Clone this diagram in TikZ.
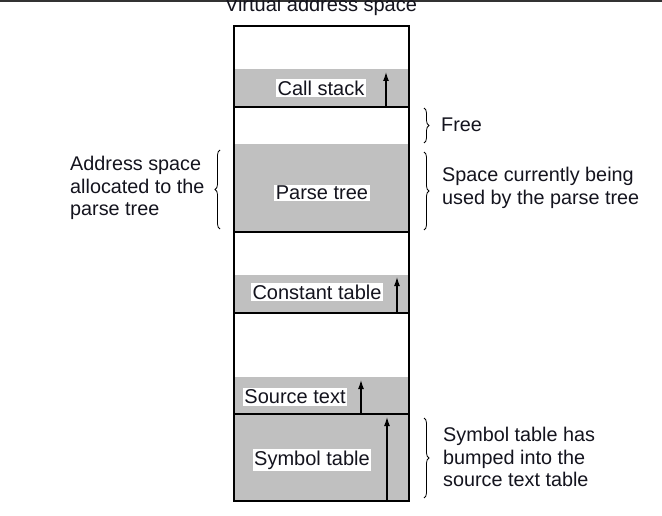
\documentclass[tikz,border=0pt]{standalone}
\usepackage{fontspec}
\setmainfont{Liberation Sans}
\usetikzlibrary{arrows.meta,decorations.pathreplacing}
\definecolor{fillgray}{RGB}{192,192,192}
\definecolor{txt}{RGB}{20,20,30}
\tikzset{
  seg/.style={fill=fillgray},
  lbl/.style={fill=white,inner sep=1.5pt,text=txt,font=\fontsize{20}{22}\selectfont},
  side/.style={align=left,anchor=west,text=txt,inner sep=0pt,font=\fontsize{19.8}{22.5}\selectfont},
  growarrow/.style={-{Latex[length=9pt,width=6pt]},line width=1.3pt},
  brc/.style={decorate,decoration={brace,amplitude=5pt},line width=0.8pt},
  frame/.style={line width=1.5pt}
}
\begin{document}
\begin{tikzpicture}[x=1pt,y=-1pt]
\useasboundingbox (0,0) rectangle (662,516);
\fill[white] (0,0) rectangle (662,516);
\fill[black!80] (0,0) rectangle (662,2);
\node[text=txt,font=\fontsize{20}{22}\selectfont,anchor=base] (title) at (321,12) {Virtual address space};
% shaded regions
\fill[seg] (234,69) rectangle (409,107);
\fill[seg] (234,144) rectangle (409,232);
\fill[seg] (234,275) rectangle (409,313);
\fill[seg] (234,377) rectangle (409,414);
\fill[seg] (234,414) rectangle (409,501);
% frame and separators
\draw[frame] (234,26) rectangle (409,501);
\draw[frame] (234,107) -- (409,107);
\draw[frame] (234,232) -- (409,232);
\draw[frame] (234,313) -- (409,313);
\draw[frame] (234,414) -- (409,414);
% growth arrows
\coordinate (cs0) at (386,107); \coordinate (cs1) at (386,72);
\coordinate (ct0) at (397,313); \coordinate (ct1) at (397,277);
\coordinate (st0) at (361,414); \coordinate (st1) at (361,380);
\coordinate (sy0) at (387,501); \coordinate (sy1) at (387,417);
\draw[growarrow] (cs0) -- (cs1);
\draw[growarrow] (ct0) -- (ct1);
\draw[growarrow] (st0) -- (st1);
\draw[growarrow] (sy0) -- (sy1);
% labels
\node[lbl] (callstack) at (321,88) {Call stack};
\node[lbl] (parsetree) at (322,193) {Parse tree};
\node[lbl] (consttable) at (317,292) {Constant table};
\node[lbl] (sourcetext) at (295,397) {Source text};
\node[lbl] (symtable) at (312,460) {Symbol table};
% braces
\coordinate (fb0) at (424,108); \coordinate (fb1) at (424,143);
\coordinate (pb0) at (424,152); \coordinate (pb1) at (424,230);
\coordinate (lb0) at (220,150); \coordinate (lb1) at (220,229);
\coordinate (sb0) at (424,418); \coordinate (sb1) at (424,498);
\draw[brc] (fb0) -- (fb1);
\draw[brc] (pb0) -- (pb1);
\draw[brc] (lb1) -- (lb0);
\draw[brc] (sb0) -- (sb1);
\node[side] (free) at (441,125) {Free};
\node[side] (used) at (442,188) {Space currently being\\used by the parse tree};
\node[side] (alloc) at (70,188) {Address space\\allocated to the\\parse tree};
\node[side] (bumped) at (443,457) {Symbol table has\\bumped into the\\source text table};
\end{tikzpicture}
\end{document}
